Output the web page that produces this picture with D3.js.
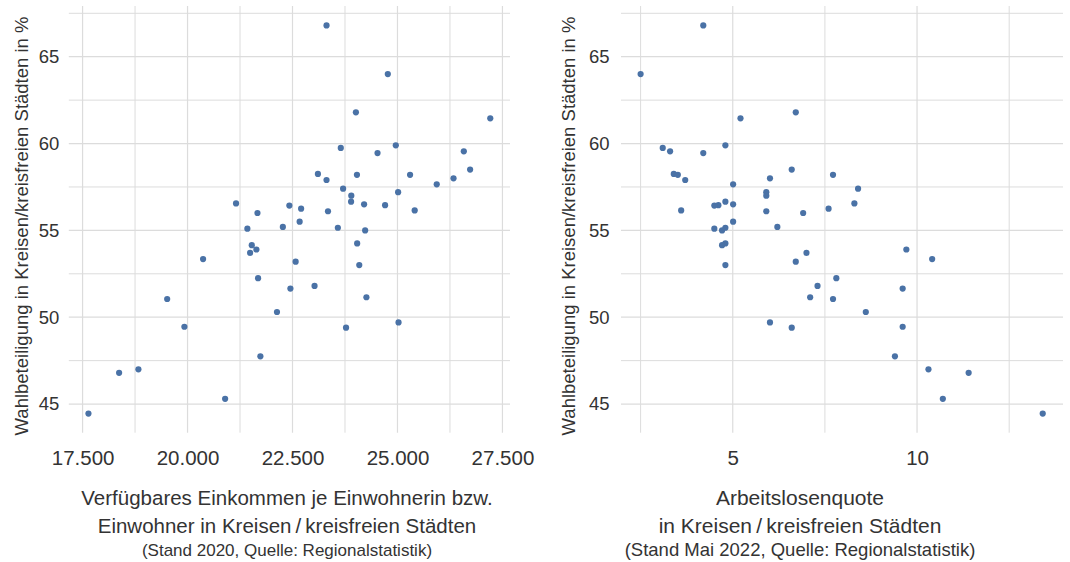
<!DOCTYPE html>
<html>
<head>
<meta charset="utf-8">
<script src="https://cdn.jsdelivr.net/npm/d3@7"></script>
<style>
  html, body { margin: 0; padding: 0; background: #fff; }
  svg { display: block; font-family: "Liberation Sans", Arial, sans-serif; }
</style>
</head>
<body>
<svg id="chart" width="1070" height="562"></svg>
<script>
// Wahlbeteiligung (turnout, %) per Kreis / kreisfreie Stadt
const turnout = [66.8, 64.0, 61.8, 61.45, 59.75, 59.9, 59.45, 59.55, 58.25, 58.2,
  58.2, 58.5, 58.0, 57.9, 57.65, 57.4, 57.2, 57.0, 56.65, 56.55,
  56.5, 56.45, 56.43, 56.25, 56.15, 56.1, 56.0, 55.5, 55.2, 55.15,
  55.1, 55.0, 54.25, 54.15, 53.9, 53.7, 53.35, 53.2, 53.0, 52.25,
  51.8, 51.65, 51.15, 51.05, 50.3, 49.7, 49.45, 49.4, 47.75, 47.0,
  46.8, 45.3, 44.45];
// Verfügbares Einkommen je Einwohner (EUR, 2020)
const income = [23310, 24770, 24010, 27210, 23650, 24960, 24525, 26580, 23105, 24035,
  25300, 26730, 26335, 23310, 25935, 23705, 25015, 23900, 23895, 21155,
  24205, 24705, 22425, 22705, 25410, 23345, 21665, 22670, 22270, 23580,
  21425, 24230, 24040, 21530, 21640, 21490, 20370, 22575, 24090, 21680,
  23025, 22450, 24260, 19515, 22130, 25025, 19925, 23775, 21735, 18830,
  18370, 20895, 17640];
// Arbeitslosenquote (%, Mai 2022)
const unemployment = [4.20, 2.50, 6.71, 5.21, 3.10, 4.80, 4.20, 3.30, 3.40, 3.51,
  7.72, 6.60, 6.01, 3.71, 5.01, 8.40, 5.91, 5.91, 4.80, 8.30,
  5.01, 4.61, 4.50, 7.60, 3.60, 5.91, 6.91, 5.01, 6.21, 4.80,
  4.50, 4.71, 4.80, 4.71, 9.71, 7.00, 10.41, 6.71, 4.80, 7.81,
  7.30, 9.61, 7.10, 7.72, 8.61, 6.01, 9.61, 6.60, 9.40, 10.31,
  11.40, 10.70, 13.41];

const yMajor = [45, 50, 55, 60, 65];
const yMinor = [47.5, 52.5, 57.5, 62.5, 67.5];
const incomeMajor = [17500, 20000, 22500, 25000, 27500];
const incomeMinor = [18750, 21250, 23750, 26250];
const unempMajor = [5, 10];
const unempMinor = [2.5, 7.5, 12.5];

const yTitle = "Wahlbeteiligung in Kreisen/kreisfreien Städten in %";
const leftTitle = ["Verfügbares Einkommen je Einwohnerin bzw.",
                   "Einwohner in Kreisen\u2009/\u2009kreisfreien Städten",
                   "(Stand 2020, Quelle: Regionalstatistik)"];
const rightTitle = ["Arbeitslosenquote",
                    "in Kreisen\u2009/\u2009kreisfreien Städten",
                    "(Stand Mai 2022, Quelle: Regionalstatistik)"];

const de = d3.formatLocale({decimal: ",", thousands: ".", grouping: [3], currency: ["", " €"]});
const fmtIncome = de.format(",.0f");
const fmtUnemp = de.format("d");

const svg = d3.select("#chart");
const gridColor = "#dcdcdc";
const textColor = "#333333";
const dotColor = "#4a72a6";

const panelTop = 6, panelBottom = 432.7;
const yDomain = [43.35, 67.92];

function panel(opts) {
  const x = d3.scaleLinear().domain(opts.xDomain).range([opts.x0, opts.x1]);
  const y = d3.scaleLinear().domain(yDomain).range([panelBottom, panelTop]);
  const g = svg.append("g");

  // grid lines
  const grid = g.append("g");
  grid.selectAll("line.hmin").data(yMinor).join("line")
    .attr("x1", opts.x0).attr("x2", opts.x1)
    .attr("y1", d => y(d)).attr("y2", d => y(d))
    .attr("stroke", gridColor).attr("stroke-width", 1);
  grid.selectAll("line.hmaj").data(yMajor).join("line")
    .attr("x1", opts.x0).attr("x2", opts.x1)
    .attr("y1", d => y(d)).attr("y2", d => y(d))
    .attr("stroke", gridColor).attr("stroke-width", 1.2);
  grid.selectAll("line.vmin").data(opts.xMinor).join("line")
    .attr("x1", d => x(d)).attr("x2", d => x(d))
    .attr("y1", panelTop).attr("y2", panelBottom)
    .attr("stroke", gridColor).attr("stroke-width", 1);
  grid.selectAll("line.vmaj").data(opts.xMajor).join("line")
    .attr("x1", d => x(d)).attr("x2", d => x(d))
    .attr("y1", panelTop).attr("y2", panelBottom)
    .attr("stroke", gridColor).attr("stroke-width", 1.2);

  // y axis labels
  const ya = g.append("g").attr("transform", `translate(${opts.x0},0)`)
    .call(d3.axisLeft(y).tickValues(yMajor).tickSize(0).tickPadding(opts.yPad));
  ya.select(".domain").remove();
  ya.selectAll("text").attr("fill", textColor)
    .style("font-size", "18.5px").style("font-family", "Liberation Sans, Arial, sans-serif");

  // x axis labels
  const xa = g.append("g").attr("transform", `translate(0,${panelBottom})`)
    .call(d3.axisBottom(x).tickValues(opts.xMajor).tickSize(0).tickFormat(opts.fmt));
  xa.select(".domain").remove();
  xa.selectAll("text").attr("fill", textColor).attr("dy", null).attr("y", 32.3)
    .style("font-size", "20.5px").style("font-family", "Liberation Sans, Arial, sans-serif");

  // y title
  g.append("text")
    .attr("transform", `translate(${opts.yTitleX},226) rotate(-90)`)
    .attr("text-anchor", "middle")
    .attr("fill", textColor)
    .style("font-size", "18.5px")
    .text(yTitle);

  // x title
  opts.title.forEach((t, i) => {
    g.append("text")
      .attr("x", opts.titleX).attr("y", opts.titleY[i])
      .attr("text-anchor", "middle")
      .attr("fill", textColor)
      .style("font-size", opts.sizes[i] + "px")
      .text(t);
  });

  // points
  g.append("g").selectAll("circle").data(turnout).join("circle")
    .attr("cx", (d, i) => x(opts.xValues[i]))
    .attr("cy", d => y(d))
    .attr("r", 3.1)
    .attr("fill", dotColor);
}

panel({
  xDomain: [17172, 27680], x0: 68.8, x1: 510,
  xMajor: incomeMajor, xMinor: incomeMinor, fmt: fmtIncome,
  xValues: income, yPad: 9.5, yTitleX: 28,
  title: leftTitle, titleX: 287, titleY: [505, 532.5, 556], sizes: [20.5, 20.5, 17]
});

panel({
  xDomain: [1.968, 13.96], x0: 621, x1: 1063,
  xMajor: unempMajor, xMinor: unempMinor, fmt: fmtUnemp,
  xValues: unemployment, yPad: 11.5, yTitleX: 575,
  title: rightTitle, titleX: 800, titleY: [505, 532.5, 556], sizes: [21, 21, 18.5]
});
</script>
</body>
</html>
